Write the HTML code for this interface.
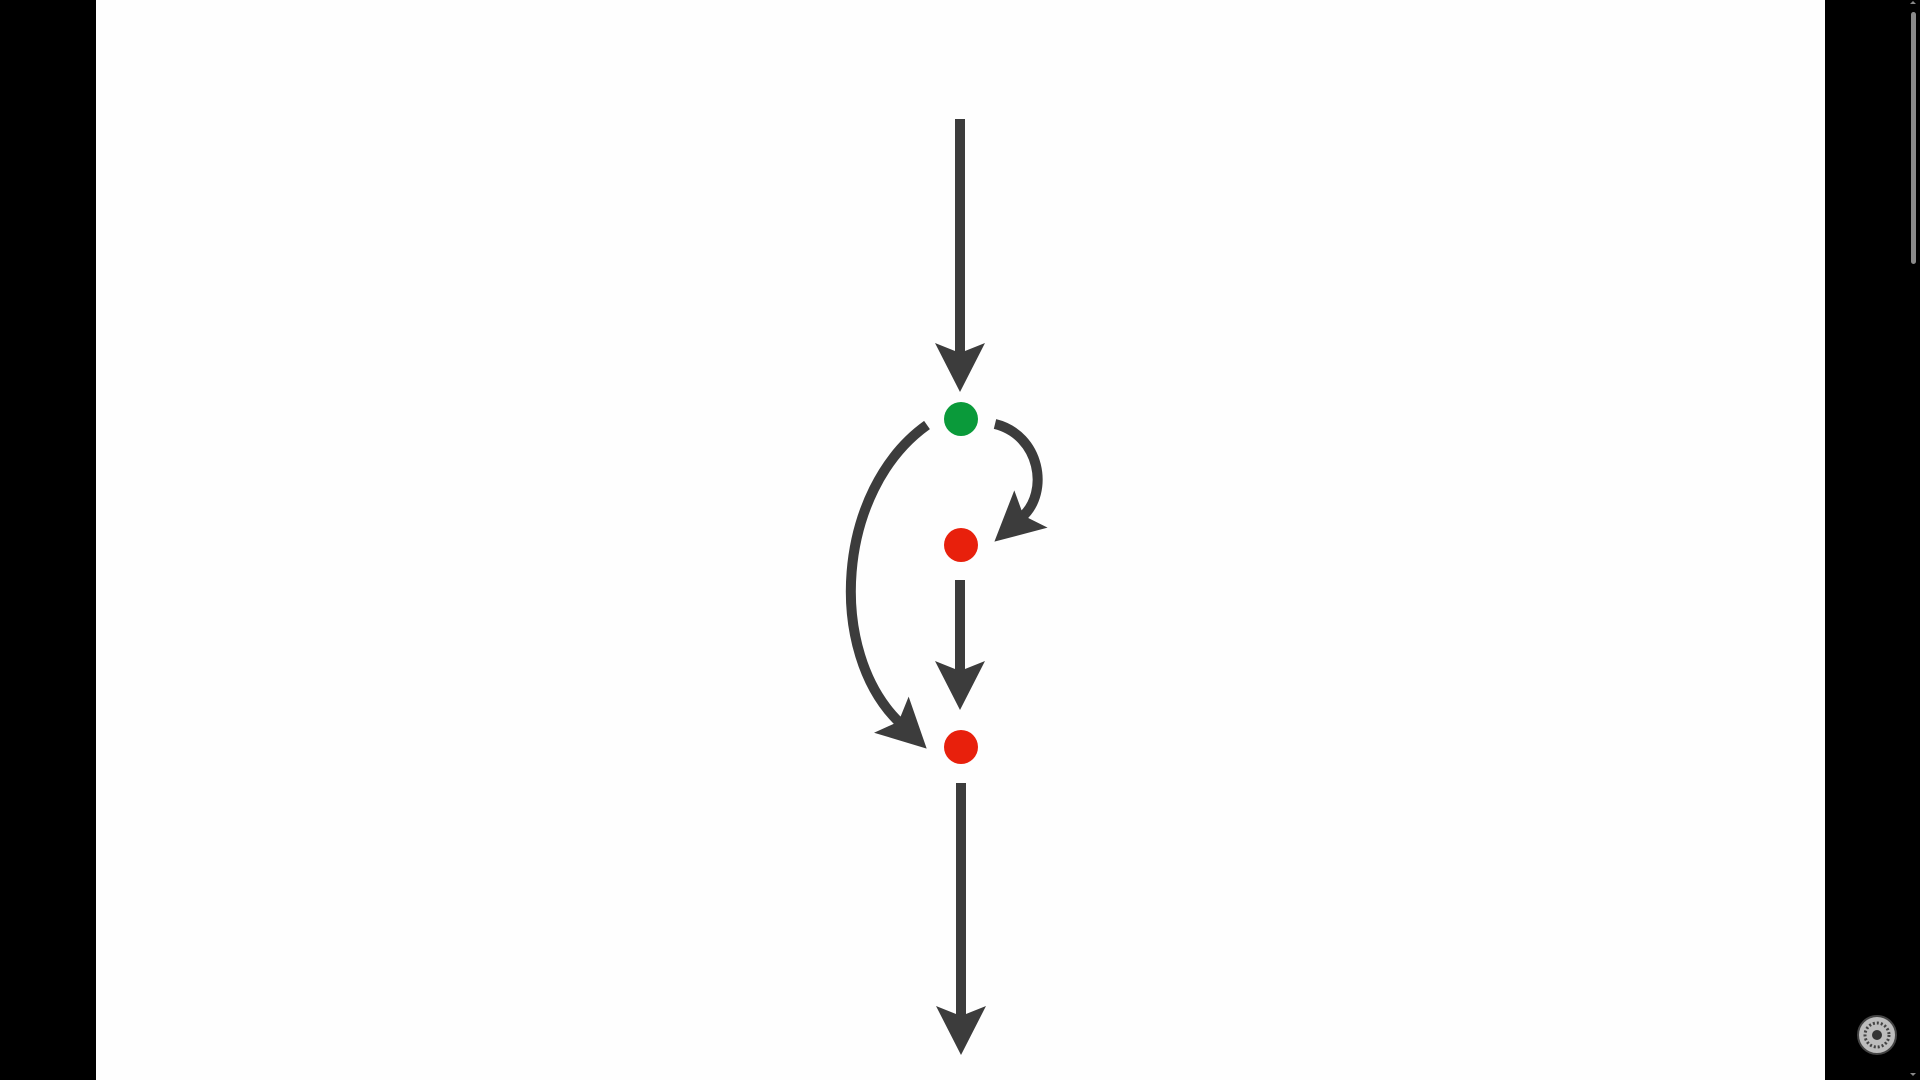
<!DOCTYPE html>
<html>
<head>
<meta charset="utf-8">
<style>
  html,body{margin:0;padding:0;width:1920px;height:1080px;overflow:hidden;background:#000;}
  svg{display:block;}
</style>
</head>
<body>
<svg width="1920" height="1080" viewBox="0 0 1920 1080">
  <defs>
    <marker id="ah" markerUnits="userSpaceOnUse" markerWidth="60" markerHeight="60" viewBox="-15 -30 60 60" refX="0" refY="0" orient="auto">
      <path d="M37,0 L-12,-25 L-2,0 L-12,25 Z" fill="#3c3c3c"/>
    </marker>
  </defs>
  <rect x="0" y="0" width="1920" height="1080" fill="#000"/>
  <rect x="96" y="0" width="1729" height="1080" fill="#fefefe"/>
  <rect x="1911" y="12" width="5" height="252" rx="2.5" fill="#8a8a8a"/>
  <path d="M1910,4 l3,-3 l3,3 z" fill="#888"/>
  <path d="M1910,1073 l3,3 l3,-3 z" fill="#888"/>

  <g stroke="#3c3c3c" stroke-width="10" fill="none">
    <line x1="960" y1="119" x2="960" y2="355" marker-end="url(#ah)"/>
    <line x1="960" y1="580" x2="960" y2="673" marker-end="url(#ah)"/>
    <line x1="961" y1="783" x2="961" y2="1018" marker-end="url(#ah)"/>
    <path d="M927,425 C836,490 826,652 900,723" marker-end="url(#ah)"/>
    <path d="M995,424 C1040,435 1050,492 1022,517" marker-end="url(#ah)"/>
  </g>

  <circle cx="961" cy="419" r="17" fill="#0a9a3a"/>
  <circle cx="961" cy="545" r="17" fill="#e8200c"/>
  <circle cx="961" cy="747" r="17" fill="#e8200c"/>

  <g>
    <circle cx="1877" cy="1035" r="19" fill="#bdbdbd" stroke="#444" stroke-width="2"/>
    <circle cx="1877" cy="1035" r="12" fill="none" stroke="#444" stroke-width="3" stroke-dasharray="2 2"/>
    <circle cx="1877" cy="1035" r="5" fill="#333"/>
  </g>
</svg>
</body>
</html>
